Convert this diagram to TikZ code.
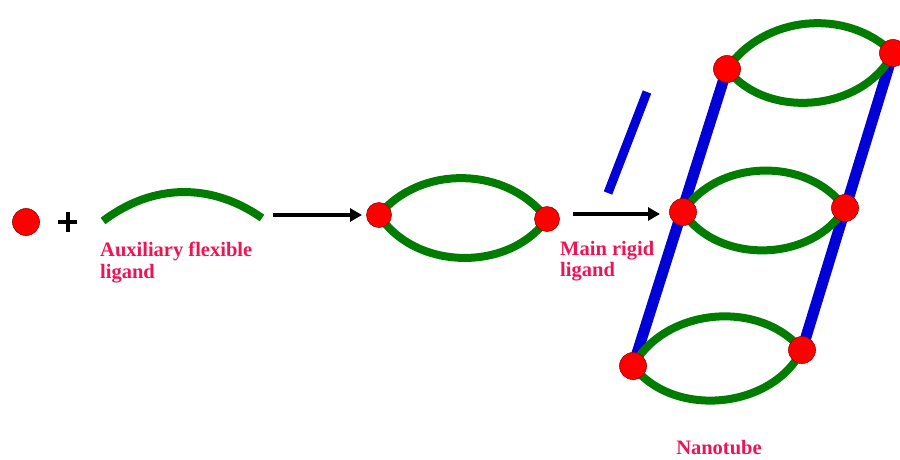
\documentclass[tikz,border=0pt]{standalone}
\usepackage{fontspec}
\setmainfont{Liberation Serif}
\usetikzlibrary{arrows.meta}
\definecolor{lgreen}{RGB}{0,125,0}
\definecolor{lblue}{RGB}{0,0,215}
\definecolor{lred}{RGB}{255,0,0}
\definecolor{lpink}{RGB}{236,20,84}
\tikzset{
  dot/.style={circle,fill=lred,draw=red!60!black,line width=0.6pt,minimum size=27pt,inner sep=0pt},
  sdot/.style={dot,minimum size=25pt},
  lig/.style={draw=lgreen,line width=8pt},
  rod/.style={draw=lblue,line width=11pt},
  arr/.style={draw=black,line width=3.5pt,-{Triangle[length=12pt,width=13pt]}},
  plusbar/.style={draw=black,line width=4pt},
  lbl/.style={text=lpink,font=\fontsize{20.5}{21.5}\selectfont\bfseries,align=left,inner sep=0pt}
}
\begin{document}
\begin{tikzpicture}[x=1pt,y=-1pt]
\useasboundingbox (0,0) rectangle (900,459);
% positions
\coordinate (m0) at (26,222);
\coordinate (f1) at (103,221);
\coordinate (f2) at (262,218);
\coordinate (l1) at (379,215);
\coordinate (l2) at (547,219);
\coordinate (r1) at (647,92);
\coordinate (r2) at (608,193);
\coordinate (t1) at (727,69);
\coordinate (t2) at (893,53);
\coordinate (c1) at (683,212);
\coordinate (c2) at (845,208);
\coordinate (b1) at (633,366);
\coordinate (b2) at (802,350);
\coordinate (a1s) at (273,215);
\coordinate (a1e) at (362,215);
\coordinate (a2s) at (573,214);
\coordinate (a2e) at (660,214);
\coordinate (p1) at (58,222);
\coordinate (p2) at (77,222);
\coordinate (p3) at (67.5,212);
\coordinate (p4) at (67.5,232);
% rods
\draw[rod,line width=9pt] (r1) -- (r2);
\draw[rod] (t1) -- (b1);
\draw[rod] (t2) -- (b2);
% ligands
\draw[lig] (f1) to[bend left=36] (f2);
\draw[lig] (l1) to[bend right=56] (l2);
\draw[lig] (l1) to[bend left=52] (l2);
\draw[lig] (t1) to[bend right=58] (t2);
\draw[lig] (t1) to[bend left=50] (t2);
\draw[lig] (c1) to[bend right=58] (c2);
\draw[lig] (c1) to[bend left=56] (c2);
\draw[lig] (b1) to[bend right=58] (b2);
\draw[lig] (b1) to[bend left=56] (b2);
% metal ions
\node[dot] (n0) at (m0) {};
\node[sdot] (nl1) at (l1) {};
\node[sdot] (nl2) at (l2) {};
\node[dot] (nt1) at (t1) {};
\node[dot] (nt2) at (t2) {};
\node[dot] (nc1) at (c1) {};
\node[dot] (nc2) at (c2) {};
\node[dot] (nb1) at (b1) {};
\node[dot] (nb2) at (b2) {};
% arrows
\draw[arr] (a1s) -- (a1e);
\draw[arr] (a2s) -- (a2e);
% plus
\draw[plusbar] (p1) -- (p2);
\draw[plusbar] (p3) -- (p4);
% labels
\node[lbl,anchor=north west] (aux) at (100,242) {Auxiliary flexible\\ligand};
\node[lbl,anchor=north west] (main) at (560,241) {Main rigid\\ligand};
\node[lbl,anchor=base] (nano) at (719,454) {Nanotube};
\end{tikzpicture}
\end{document}
